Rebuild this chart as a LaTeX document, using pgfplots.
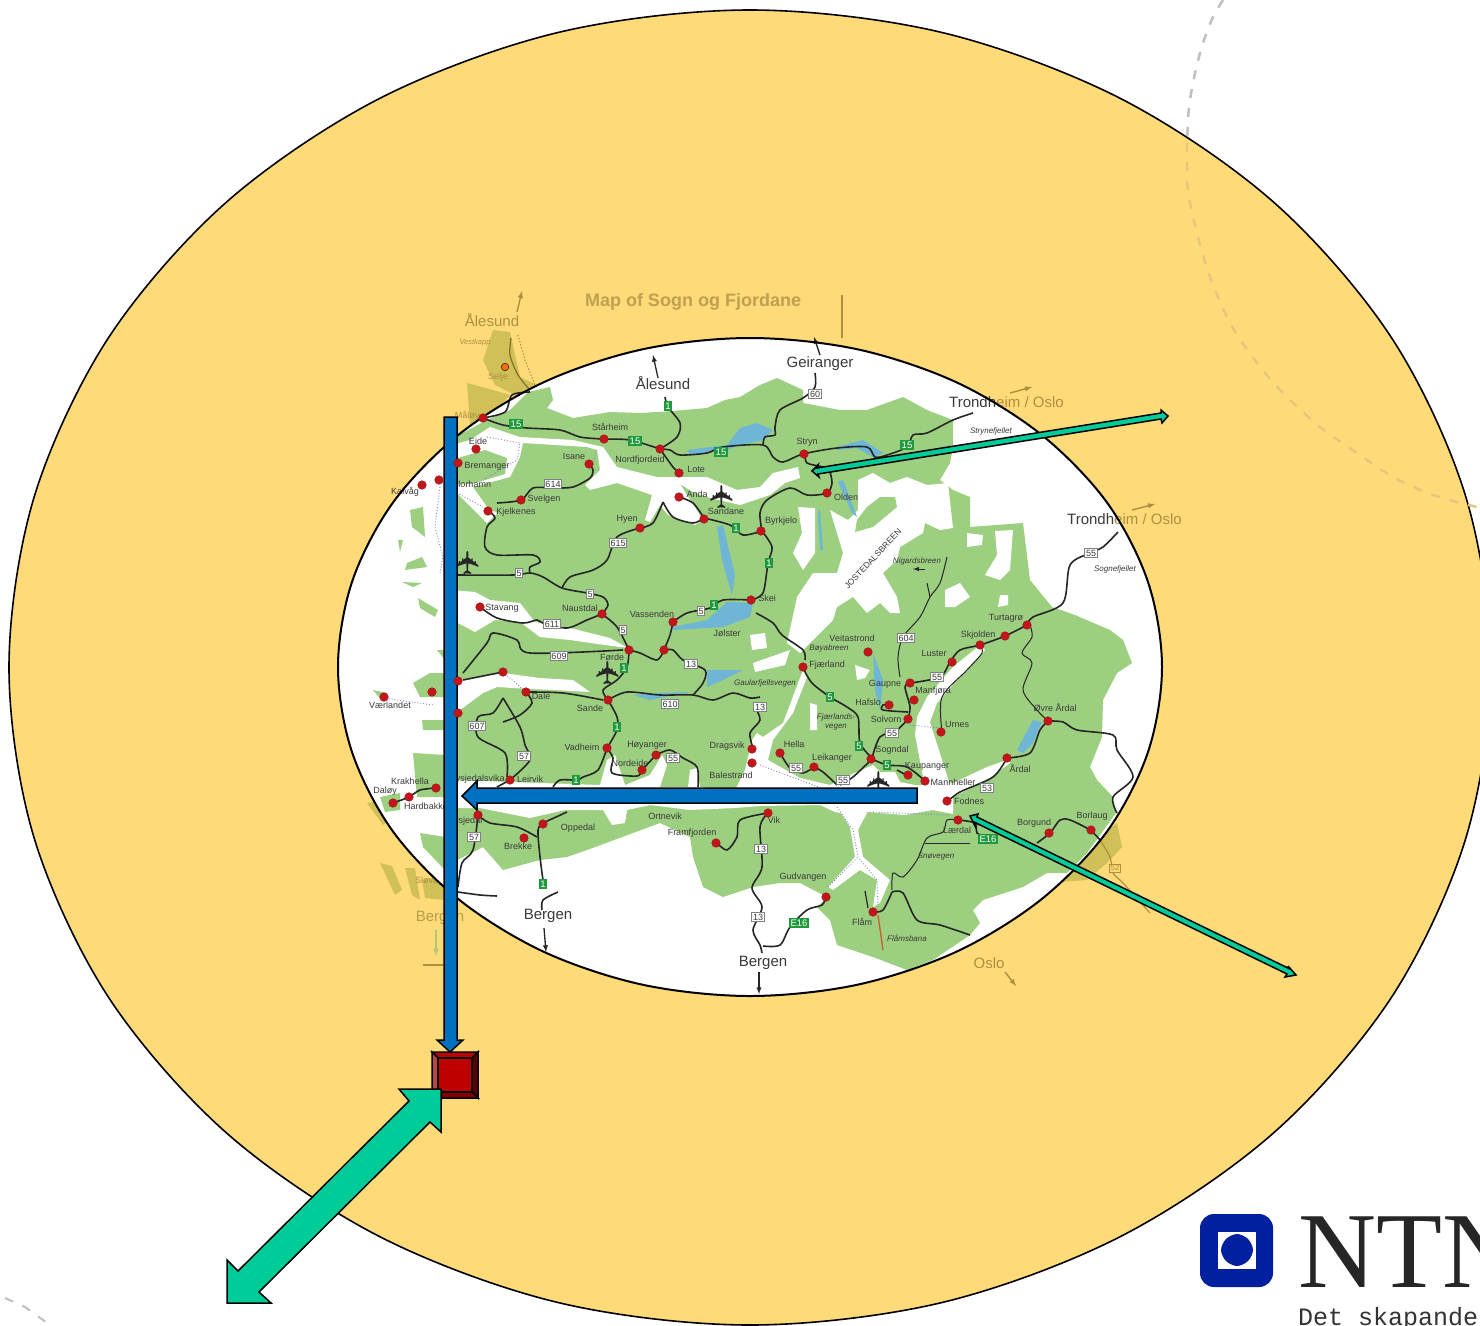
\documentclass[border=0pt]{standalone}
\usepackage{fontspec}
\usepackage{pgfplots}
\pgfplotsset{compat=1.18}
\setmainfont{Liberation Sans}
\newfontfamily\serifnt{Liberation Serif}
\newfontfamily\mononT{Liberation Mono}
\newfontfamily\dejavu{DejaVu Sans}
\definecolor{ringyellow}{HTML}{FFDA79}
\definecolor{arcfade}{HTML}{E6C67C}
\definecolor{land}{HTML}{9CCF7F}
\definecolor{lake}{HTML}{6FB6D6}
\definecolor{dotred}{HTML}{C2161C}
\definecolor{arrowblue}{HTML}{0070C0}
\definecolor{arrowteal}{HTML}{00CC99}
\definecolor{maptext}{HTML}{3A3A3A}
\definecolor{faded}{HTML}{AD8F3E}
\definecolor{fadedtitle}{HTML}{BFA04F}
\definecolor{olive}{HTML}{CFC157}
\definecolor{ntnu}{HTML}{00209F}
\definecolor{badgegreen}{HTML}{1E9A3C}
% labels are centred on the given pixel position
\newcommand{\lb}[3]{\node[font=\fontsize{9}{10}\selectfont,text=maptext,inner sep=0pt] at (axis cs:#1,#2) {#3};}
\newcommand{\lbi}[3]{\node[font=\fontsize{8}{9}\selectfont\itshape,text=maptext,inner sep=0pt,align=center] at (axis cs:#1,#2) {#3};}
\newcommand{\lbig}[3]{\node[font=\fontsize{15}{16}\selectfont,text=maptext,inner sep=0pt] at (axis cs:#1,#2) {#3};}
\newcommand{\wb}[3]{\node[font=\fontsize{9}{10}\selectfont,text=maptext,fill=white,draw=gray,line width=0.8pt,inner sep=1.2pt] at (axis cs:#1,#2) {#3};}
\newcommand{\gb}[3]{\node[font=\fontsize{9.5}{10}\selectfont,text=white,fill=badgegreen,inner sep=1.6pt] at (axis cs:#1,#2) {#3};}
\newcommand{\plane}[2]{\node[font=\dejavu\fontsize{32}{32}\selectfont,text=black!85,inner sep=0pt,rotate=90] at (axis cs:#1,#2) {✈};}
\pgfplotsset{
  road/.style={color=black!85,line width=1.6pt,smooth,tension=0.5},
  ferry/.style={color=gray!55!blue!70,line width=0.9pt,dotted},
  landf/.style={fill=land,draw=none},
  whitef/.style={fill=white,draw=none},
  lakef/.style={fill=lake,draw=none},
  olivef/.style={fill=olive,draw=none},
}
\begin{document}
\begin{tikzpicture}
\begin{axis}[
  scale only axis, width=1480pt, height=1325pt,
  xmin=0, xmax=1480, ymin=0, ymax=1325, y dir=reverse,
  axis lines=none, clip=true,
]
% page background, also keeps the picture at its full size
\addplot[fill=white,draw=none] coordinates {(0,0)(1480,0)(1480,1325)(0,1325)} -- cycle;
% dashed template arc, behind the ring
\addplot[color=gray!50,line width=2.5pt,dash pattern=on 9pt off 10pt,smooth] coordinates {(1223,0)(1213,17)(1203,43)(1195,73)(1189,107)(1187,143)};
\addplot[color=gray!50,line width=2pt,dash pattern=on 9pt off 10pt] coordinates {(5,1298)(25,1307)(50,1325)};
% outer ring
\addplot[fill=ringyellow,draw=black,line width=1.6pt,smooth cycle,tension=0.55] coordinates {
 (1491,667.5)(1466,497.5)(1392,338.5)(1274,202.5)(1120.5,98.5)(942,32.5)(750,10)(558,32.5)(379.5,98.5)(226,202.5)(108,338.5)(34,497.5)
 (9,667.5)(34,837.5)(108,996.5)(226,1132.5)(379.5,1236.5)(558,1302.5)(750,1325)(942,1302.5)(1120.5,1236.5)(1274,1132.5)(1392,996.5)(1466,837.5)};
\addplot[color=arcfade,line width=2.4pt,dash pattern=on 9pt off 10pt,smooth] coordinates {(1187,143)(1188,190)(1197,233)(1210,277)(1230,323)(1257,363)(1283,393)(1320,427)(1357,453)(1393,477)(1433,495)(1477,507)};
% faded part of the map outside the inner ellipse
\addplot[olivef] coordinates {(493,330)(510,332)(520,377)(537,385)(525,400)(495,385)(483,360)} -- cycle;
\addplot[olivef] coordinates {(467,383)(493,390)(510,395)(483,425)(470,425)} -- cycle;
\addplot[olivef] coordinates {(367,803)(383,800)(395,815)(383,825)} -- cycle;
\addplot[olivef] coordinates {(380,863)(392,866)(402,890)(395,895)} -- cycle;
\addplot[olivef] coordinates {(405,868)(415,868)(420,900)(412,895)} -- cycle;
\addplot[olivef] coordinates {(422,880)(445,875)(445,900)(425,898)} -- cycle;
\addplot[olivef] coordinates {(1117,823)(1122,847)(1107,863)(1087,880)(1060,882)(1067,870)(1100,835)} -- cycle;
\addplot[color=faded!80!black,line width=1.3pt,smooth] coordinates {(511,338)(510,355)(518,375)(530,390)};
\addplot[color=faded,line width=1.2pt,dotted] coordinates {(518,335)(525,360)(535,385)};
\addplot[color=faded,line width=1.2pt,smooth] coordinates {(1100,840)(1110,857)(1113,873)(1123,883)(1150,913)};
\addplot[color=faded,line width=1.2pt] coordinates {(842,295)(842,338)};
\addplot[only marks,mark=*,mark size=3.8pt,mark options={fill=orange!85!red,draw=none}] coordinates {(505,367)};
\addplot[color=faded,line width=1.4pt,-latex] coordinates {(517,312)(522,291)};
\addplot[color=faded,line width=1.4pt,-latex] coordinates {(1010,393)(1032,387)};
\addplot[color=faded,line width=1.4pt,-latex] coordinates {(1132,510)(1155,504)};
\addplot[color=faded,line width=1.4pt,-latex] coordinates {(1005,972)(1016,986)};
\addplot[color=land!60!olive,line width=1.5pt,-latex] coordinates {(436,930)(436,956)};
\addplot[color=faded,line width=1.2pt] coordinates {(423,965)(443,965)};
\node[font=\bfseries\fontsize{18}{20}\selectfont,text=fadedtitle,inner sep=0pt] at (axis cs:693,302) {Map of Sogn og Fjordane};
\node[font=\fontsize{15}{16}\selectfont,text=faded,inner sep=0pt] at (axis cs:492,320) {Ålesund};
\node[font=\fontsize{7.5}{8}\selectfont\itshape,text=faded,inner sep=0pt] at (axis cs:475,343) {Vestkapp};
\node[font=\fontsize{9}{10}\selectfont,text=faded,inner sep=0pt] at (axis cs:498,377) {Selje};
\node[font=\fontsize{9}{10}\selectfont,text=faded,inner sep=0pt] at (axis cs:467,416) {Måløy};
\node[font=\fontsize{9}{10}\selectfont,text=faded,inner sep=0pt] at (axis cs:429,881) {Sløvåg};
\node[font=\fontsize{15}{16}\selectfont,text=faded!70!olive,inner sep=0pt] at (axis cs:440,918) {Bergen};
\node[font=\fontsize{15}{16}\selectfont,text=faded,inner sep=0pt] at (axis cs:989,963) {Oslo};
\node[font=\fontsize{8}{9}\selectfont,text=faded,fill=ringyellow,draw=faded,inner sep=1pt] at (axis cs:1115,868) {52};
% inner ellipse
\addplot[fill=white,draw=none,smooth cycle,tension=0.55] coordinates {
 (1162,667)(1148,582)(1107,502.5)(1041,434.4)(956,382.1)(857,349.2)(750,338)(643,349.2)(544,382.1)(459,434.4)(393,502.5)(352,582)
 (338,667)(352,752)(393,831.5)(459,899.6)(544,951.9)(643,984.8)(750,996)(857,984.8)(956,951.9)(1041,899.6)(1107,831.5)(1148,752)};
% land
\addplot[landf] coordinates {(455,437)(487,420)(510,410)(528,392)(550,387)(553,400)(547,408)(573,418)(610,412)(640,413)(673,411)(707,408)(725,400)(740,397)(760,385)(777,378)(803,390)(803,403)(840,410)(867,410)(903,397)(927,410)(953,420)(953,447)(950,463)(940,480)(953,490)(970,497)(970,527)(1023,523)(1030,580)(1052,607)(1075,615)(1110,630)(1123,640)(1132,663)(1117,673)(1103,700)(1102,737)(1090,767)(1097,780)(1113,797)(1116,813)(1087,853)(1078,862)(1067,873)(1047,873)(1023,887)(983,900)(973,910)(980,923)(970,935)(933,960)(907,970)(873,957)(837,945)(830,920)(817,907)(827,897)(800,883)(780,883)(753,887)(723,897)(703,887)(693,857)(690,837)(660,823)(633,833)(587,850)(567,857)(540,860)(503,870)(483,847)(457,860)(452,880)(450,650)} -- cycle;
\addplot[landf] coordinates {(410,510)(423,507)(425,537)(412,527)} -- cycle;
\addplot[landf] coordinates {(398,540)(403,540)(400,552)} -- cycle;
\addplot[landf] coordinates {(407,563)(422,557)(427,567)(405,570)} -- cycle;
\addplot[landf] coordinates {(402,582)(422,583)(413,587)} -- cycle;
\addplot[landf] coordinates {(418,598)(438,610)(435,617)(420,608)} -- cycle;
\addplot[landf] coordinates {(413,683)(430,673)(445,673)(445,697)(420,697)} -- cycle;
\addplot[landf] coordinates {(373,690)(387,693)(383,702)} -- cycle;
\addplot[landf] coordinates {(437,650)(445,650)(445,660)} -- cycle;
\addplot[landf] coordinates {(422,720)(445,720)(445,730)(423,730)} -- cycle;
\addplot[landf] coordinates {(413,753)(445,755)(445,797)(417,797)} -- cycle;
\addplot[landf] coordinates {(380,797)(400,793)(400,810)(385,812)} -- cycle;
\addplot[landf] coordinates {(420,833)(445,837)(445,870)(423,847)} -- cycle;
% fjords and glaciers
\addplot[whitef] coordinates {(490,427)(520,437)(573,440)(603,447)(617,467)(657,477)(680,477)(707,477)(737,490)(760,487)(773,473)(798,467)(800,478)(785,483)(770,495)(740,505)(710,498)(693,492)(680,484)(703,520)(695,525)(668,515)(660,505)(650,522)(645,520)(652,495)(617,483)(590,490)(585,485)(600,470)(597,450)(587,447)(523,443)(520,457)(510,477)(473,487)(487,507)(497,513)(487,523)(477,513)(457,493)(452,495)(452,445)(470,440)} -- cycle;
\addplot[landf] coordinates {(458,458)(485,450)(507,458)(505,474)(472,484)(458,484)} -- cycle;
\addplot[whitef] coordinates {(452,590)(475,592)(490,600)(520,603)(535,622)(570,628)(610,638)(628,648)(605,645)(570,640)(540,637)(520,622)(495,620)(475,632)(452,620)} -- cycle;
\addplot[whitef] coordinates {(452,685)(460,680)(503,673)(540,678)(573,680)(590,692)(553,690)(513,688)(497,687)(483,693)(460,710)(452,712)} -- cycle;
\addplot[whitef] coordinates {(452,780)(600,785)(607,760)(615,755)(625,785)(650,775)(662,755)(667,765)(660,787)(688,787)(690,770)(697,768)(700,787)(735,790)(745,770)(752,740)(757,733)(763,737)(783,723)(803,670)(807,677)(793,713)(773,740)(768,760)(800,778)(830,785)(850,775)(873,765)(880,772)(895,772)(900,782)(915,785)(945,785)(953,797)(953,814)(933,810)(905,815)(867,812)(860,817)(835,812)(820,805)(760,806)(735,808)(690,810)(650,805)(627,810)(625,823)(612,825)(603,810)(565,810)(530,818)(500,812)(480,808)(452,808)} -- cycle;
\addplot[whitef] coordinates {(980,645)(985,650)(957,680)(937,703)(930,722)(950,785)(925,787)(915,735)(917,717)(927,697)(953,667)} -- cycle;
\addplot[whitef] coordinates {(943,783)(953,783)(987,767)(1007,760)(1010,763)(987,780)(953,797)(945,795)} -- cycle;
\addplot[whitef] coordinates {(837,807)(850,827)(855,857)(828,887)(833,890)(860,870)(877,880)(873,907)(880,903)(890,880)(863,857)(858,830)(867,813)} -- cycle;
\addplot[whitef] coordinates {(858,480)(873,473)(890,483)(907,477)(927,485)(948,483)(953,528)(940,530)(925,523)(923,533)(900,547)(897,560)(883,573)(897,597)(900,613)(890,613)(880,603)(867,613)(853,597)(837,607)(833,620)(813,640)(800,653)(787,643)(797,597)(813,573)(837,573)(843,553)(830,510)(848,520)(858,510)} -- cycle;
\addplot[landf] coordinates {(857,520)(855,532)(873,527)(897,507)(895,497)(880,497)(867,507)} -- cycle;
\addplot[whitef] coordinates {(798,507)(815,508)(815,553)(803,570)(793,553)(802,533)} -- cycle;
\addplot[whitef] coordinates {(995,531)(1013,530)(1010,570)(1000,580)(985,575)(997,555)} -- cycle;
\addplot[whitef] coordinates {(967,533)(983,535)(982,545)(967,547)} -- cycle;
\addplot[whitef] coordinates {(945,590)(960,583)(970,597)(955,607)(945,607)} -- cycle;
\addplot[whitef] coordinates {(1000,595)(1008,595)(1008,605)(998,607)} -- cycle;
\addplot[whitef] coordinates {(753,663)(790,650)(785,665)(755,672)} -- cycle;
\addplot[whitef] coordinates {(750,635)(765,633)(767,648)(752,650)} -- cycle;
\addplot[whitef] coordinates {(855,665)(870,670)(865,678)(857,680)} -- cycle;
\addplot[whitef] coordinates {(810,703)(817,705)(817,730)(810,730)} -- cycle;
% lakes
\addplot[lakef] coordinates {(673,627)(707,620)(727,602)(753,603)(750,617)(723,627)(673,630)} -- cycle;
\addplot[lakef] coordinates {(717,527)(723,525)(735,575)(732,595)(722,560)} -- cycle;
\addplot[lakef] coordinates {(837,447)(863,440)(883,453)(873,457)(857,448)(837,450)} -- cycle;
\addplot[lakef] coordinates {(687,450)(727,445)(740,428)(757,423)(773,430)(763,440)(740,445)(727,450)(690,455)} -- cycle;
\addplot[lakef] coordinates {(843,480)(857,517)(852,513)(838,482)} -- cycle;
\addplot[lakef] coordinates {(820,508)(823,550)(820,550)(818,513)} -- cycle;
\addplot[lakef] coordinates {(707,670)(743,670)(723,680)(707,687)} -- cycle;
\addplot[lakef] coordinates {(633,695)(650,700)(690,692)(660,693)} -- cycle;
\addplot[lakef] coordinates {(873,653)(883,680)(880,710)(875,690)} -- cycle;
\addplot[lakef] coordinates {(1017,750)(1033,720)(1042,722)(1033,743)(1023,753)} -- cycle;
% ferries
\addplot[ferry] coordinates {(440,487)(435,527)(443,557)(440,573)};
\addplot[ferry] coordinates {(457,493)(483,507)};
\addplot[ferry] coordinates {(487,437)(520,443)(517,460)(483,480)};
\addplot[ferry] coordinates {(910,725)(940,728)};
\addplot[ferry] coordinates {(383,698)(433,705)};
\addplot[ferry] coordinates {(760,765)(840,795)};
\addplot[ferry] coordinates {(837,807)(853,830)(858,857)(877,880)(878,905)};
\addplot[ferry] coordinates {(828,887)(858,857)};
\addplot[ferry] coordinates {(870,812)(950,815)};
\addplot[ferry] coordinates {(503,672)(526,692)};
\addplot[ferry] coordinates {(597,450)(590,470)};
% roads
\addplot[road] coordinates {(483,418)(503,425)(527,428)(560,430)(580,437)(603,439)(630,440)(660,449)};
\addplot[road] coordinates {(660,449)(670,450)(680,455)(707,453)(723,447)(763,445)(773,457)(783,462)(803,454)(837,448)(867,447)(875,457)(887,455)(907,447)(913,435)(927,433)(953,420)(973,413)};
\addplot[road] coordinates {(483,418)(505,412)(512,395)(530,392)};
\addplot[road] coordinates {(665,397)(668,407)(680,423)(677,437)(660,449)};
\addplot[road] coordinates {(660,449)(673,467)(679,473)};
\addplot[road] coordinates {(679,497)(693,503)(704,518)};
\addplot[road] coordinates {(704,518)(730,525)(743,535)(762,531)};
\addplot[road] coordinates {(663,502)(673,517)(693,523)(704,518)};
\addplot[road] coordinates {(640,528)(653,523)(663,502)};
\addplot[road] coordinates {(640,528)(617,537)(607,560)(593,570)(570,577)(562,588)};
\addplot[road] coordinates {(457,575)(513,575)(530,573)(543,577)(562,588)(587,593)(603,597)(608,605)(602,614)};
\addplot[road] coordinates {(488,510)(495,518)(487,527)(485,547)(497,555)(533,555)(540,562)(530,567)(530,573)};
\addplot[road] coordinates {(497,503)(521,500)(533,488)(553,488)(573,487)(590,478)(593,470)(589,464)};
\addplot[road] coordinates {(480,607)(497,618)(523,623)(537,620)(543,623)(567,628)(587,620)(602,614)};
\addplot[road] coordinates {(602,614)(617,627)(629,650)};
\addplot[road] coordinates {(673,622)(687,613)(710,608)(723,600)(751,600)};
\addplot[road] coordinates {(751,600)(763,593)(768,563)(772,547)(762,531)};
\addplot[road] coordinates {(762,531)(760,513)(767,500)(790,488)(807,495)(827,493)(832,483)(830,472)};
\addplot[road] coordinates {(805,454)(807,463)(823,467)(832,472)};
\addplot[road] coordinates {(815,373)(815,387)(803,398)(780,410)(775,427)(775,435)(765,437)(763,445)};
\addplot[road] coordinates {(1118,532)(1103,547)(1090,553)(1070,565)(1063,603)(1033,617)(1027,625)};
\addplot[road] coordinates {(1027,625)(1005,636)(980,645)(960,650)(950,662)(940,677)(910,683)};
\addplot[road] coordinates {(910,683)(905,687)(910,707)(908,719)};
\addplot[road] coordinates {(908,719)(897,730)(880,737)(872,758)};
\addplot[road,line width=1pt] coordinates {(900,677)(898,657)(903,637)(920,617)(930,597)(940,583)(947,557)};
\addplot[road,line width=1pt] coordinates {(930,597)(927,583)};
\addplot[road] coordinates {(889,705)(883,705)(883,710)(908,712)};
\addplot[road,line width=1pt] coordinates {(942,732)(942,697)(967,670)(982,653)(980,645)};
\addplot[road,line width=1pt] coordinates {(1030,625)(1032,637)(1022,653)(1032,663)(1023,690)(1037,710)(1048,721)};
\addplot[road] coordinates {(1048,721)(1063,722)(1077,730)(1113,735)(1117,750)(1133,777)(1113,797)(1117,813)};
\addplot[road] coordinates {(1048,721)(1040,730)(1030,753)(1007,758)};
\addplot[road] coordinates {(1007,758)(993,777)(960,792)(947,802)};
\addplot[road,line width=1pt] coordinates {(958,820)(947,820)(943,832)(927,838)(917,860)(903,877)(893,873)(892,890)};
\addplot[road] coordinates {(958,820)(975,823)(977,833)(987,837)};
\addplot[road] coordinates {(1037,843)(1050,833)(1060,820)(1070,820)(1090,830)(1100,840)};
\addplot[road] coordinates {(892,892)(903,893)(917,920)(940,925)(970,935)};
\addplot[road] coordinates {(892,892)(883,910)(873,912)};
\addplot[color=brown!70!red,line width=1.3pt] coordinates {(878,915)(883,950)};
\addplot[road] coordinates {(762,953)(760,945)(753,930)(762,907)(752,888)(762,867)(760,827)(768,813)};
\addplot[road] coordinates {(826,897)(822,905)(807,910)(790,927)(780,945)(763,946)};
\addplot[road] coordinates {(717,843)(727,850)(737,837)(740,820)(768,813)};
\addplot[road] coordinates {(872,759)(853,777)(840,785)};
\addplot[road] coordinates {(872,759)(887,765)(907,767)(925,781)};
\addplot[road] coordinates {(897,770)(908,776)};
\addplot[road] coordinates {(814,767)(803,773)(790,768)(780,753)};
\addplot[road] coordinates {(814,767)(823,772)(837,785)};
\addplot[road] coordinates {(756,613)(773,623)(782,635)(803,650)(805,660)};
\addplot[road] coordinates {(803,668)(812,683)(830,697)(847,707)(858,717)(860,743)(872,758)};
\addplot[road] coordinates {(755,707)(760,720)(750,733)(753,748)};
\addplot[road] coordinates {(673,622)(670,635)(664,650)};
\addplot[road] coordinates {(693,695)(703,683)(705,670)(683,660)(673,650)(664,650)};
\addplot[road] coordinates {(664,650)(657,660)(640,653)(629,650)};
\addplot[road] coordinates {(608,700)(627,692)(660,695)(693,695)(713,700)(733,693)(750,698)(760,697)};
\addplot[road] coordinates {(629,650)(627,667)(617,680)(603,690)(608,700)};
\addplot[road] coordinates {(608,700)(617,717)(617,730)(607,748)};
\addplot[road] coordinates {(607,748)(598,770)(583,777)(577,780)(560,780)(553,787)};
\addplot[road] coordinates {(607,748)(613,758)(612,773)(637,776)(642,770)(656,755)};
\addplot[road] coordinates {(656,755)(670,750)(683,758)(697,767)(698,787)};
\addplot[road] coordinates {(463,673)(487,643)(493,633)(517,640)(530,653)(623,650)};
\addplot[road] coordinates {(463,680)(503,672)};
\addplot[road] coordinates {(526,692)(563,693)(603,700)};
\addplot[road] coordinates {(526,692)(532,703)(520,715)(503,722)};
\addplot[road] coordinates {(503,698)(520,727)(525,745)(530,760)(510,780)};
\addplot[road] coordinates {(503,698)(493,713)(478,717)(478,737)(505,753)(507,777)};
\addplot[road] coordinates {(510,780)(497,787)};
\addplot[road] coordinates {(393,803)(409,797)(420,790)(436,788)};
\addplot[road] coordinates {(478,815)(490,823)(517,827)(537,837)};
\addplot[road] coordinates {(543,823)(538,830)(540,857)(543,880)};
\addplot[road] coordinates {(558,892)(543,900)(542,910)};
\addplot[road] coordinates {(543,823)(567,812)};
\addplot[road] coordinates {(478,815)(473,850)(462,863)(458,887)};
\addplot[road] coordinates {(458,892)(480,895)(497,896)};
\addplot[road,line width=1pt] coordinates {(925,843)(970,843)};
% little arrows on the map
\addplot[color=black!85,line width=1.3pt,-latex] coordinates {(658,378)(653,355)};
\addplot[color=black!85,line width=1.3pt,-latex] coordinates {(820,355)(814,337)};
\addplot[color=black!85,line width=1.3pt,-latex] coordinates {(544,928)(546,952)};
\addplot[color=black!85,line width=1.3pt,-latex] coordinates {(759,972)(759,994)};
\addplot[color=black!85,line width=1pt,-latex] coordinates {(925,569)(913,569)};
\addplot[color=black!85,line width=1.2pt] coordinates {(865,891)(868,908)};
% towns
\addplot[only marks,mark=*,mark size=4.3pt,mark options={fill=dotred,draw=dotred!80!black,line width=0.4pt}] coordinates {
 (483,418)(476,449)(458,463)(439,480)(422,485)(488,511)(521,500)(589,464)(604,439)(660,449)(679,473)(679,497)(704,519)(640,528)
 (761,531)(827,493)(804,454)(751,600)(673,622)(602,614)(480,607)(629,650)(664,650)(503,672)(526,692)(608,700)(458,681)(432,692)
 (458,713)(384,697)(607,748)(656,755)(642,770)(510,780)(436,788)(409,797)(393,803)(478,815)(543,824)(524,838)(716,843)(768,813)
 (752,749)(752,763)(780,753)(814,767)(871,759)(908,775)(925,781)(947,801)(958,820)(889,705)(868,652)(803,667)(910,683)(914,700)
 (908,719)(941,732)(952,662)(980,645)(1005,636)(1027,625)(1048,721)(1007,758)(1049,833)(1091,830)(826,897)(873,912)};
% planes
\plane{722}{497}\plane{468}{563}\plane{608}{673}\plane{879}{783}
% road numbers
\gb{516}{424}{15}\gb{635}{441}{15}\gb{721}{452}{15}\gb{907}{445}{15}
\gb{668}{406}{1}\gb{736}{528}{1}\gb{769}{563}{1}\gb{714}{605}{1}\gb{624}{668}{1}\gb{617}{727}{1}\gb{576}{780}{1}\gb{543}{884}{1}
\gb{830}{697}{5}\gb{859}{746}{5}\gb{887}{765}{5}\gb{988}{839}{E16}\gb{799}{923}{E16}
\wb{553}{484}{614}\wb{618}{543}{615}\wb{519}{573}{5}\wb{590}{594}{5}\wb{552}{624}{611}\wb{559}{656}{609}\wb{623}{630}{5}\wb{701}{611}{5}
\wb{691}{664}{13}\wb{670}{704}{610}\wb{477}{726}{607}\wb{524}{756}{57}\wb{474}{837}{57}\wb{673}{758}{55}\wb{760}{707}{13}\wb{796}{768}{55}
\wb{843}{780}{55}\wb{892}{733}{55}\wb{937}{677}{55}\wb{906}{638}{604}\wb{987}{788}{53}\wb{761}{849}{13}\wb{758}{917}{13}\wb{1091}{553}{55}\wb{815}{394}{60}
% place names
\lb{610}{427}{Stårheim}\lb{574}{456}{Isane}\lb{640}{460}{Nordfjordeid}\lb{696}{469}{Lote}\lb{697}{494}{Anda}\lb{726}{511}{Sandane}
\lb{627}{519}{Hyen}\lb{544}{499}{Svelgen}\lb{516}{512}{Kjelkenes}\lb{487}{466}{Bremanger}\lb{502}{608}{Stavang}\lb{580}{608}{Naustdal}
\lb{652}{614}{Vassenden}\lb{727}{633}{Jølster}\lb{767}{598}{Skei}\lb{781}{521}{Byrkjelo}\lb{846}{497}{Olden}\lb{807}{442}{Stryn}
\lb{612}{657}{Førde}\lb{541}{696}{Dale}\lb{590}{708}{Sande}\lb{582}{747}{Vadheim}\lb{647}{745}{Høyanger}\lb{630}{763}{Nordeide}
\lb{530}{779}{Leirvik}\lb{731}{775}{Balestrand}\lb{727}{746}{Dragsvik}\lb{794}{744}{Hella}\lb{832}{758}{Leikanger}\lb{892}{750}{Sogndal}
\lb{927}{766}{Kaupanger}\lb{953}{782}{Mannheller}\lb{969}{801}{Fodnes}\lb{957}{830}{Lærdal}\lb{1034}{823}{Borgund}\lb{1092}{816}{Borlaug}
\lb{1020}{769}{Årdal}\lb{1055}{708}{Øvre Årdal}\lb{957}{724}{Urnes}\lb{886}{719}{Solvorn}\lb{868}{702}{Hafslo}\lb{885}{684}{Gaupne}
\lb{933}{691}{Manfjøra}\lb{934}{653}{Luster}\lb{978}{635}{Skjolden}\lb{1006}{618}{Turtagrø}\lb{852}{638}{Veitastrond}\lb{827}{665}{Fjærland}
\lb{774}{820}{Vik}\lb{665}{816}{Ortnevik}\lb{692}{833}{Framfjorden}\lb{578}{828}{Oppedal}\lb{518}{846}{Brekke}\lb{803}{877}{Gudvangen}
\lb{862}{922}{Flåm}\lb{390}{705}{Værlandet}\lb{410}{781}{Krakhella}\lb{385}{791}{Daløy}\lb{426}{806}{Hardbakke}\lb{405}{492}{Kalvåg}
\lb{478}{441}{Eide}\lb{472}{484}{Florhamn}\lb{477}{779}{Rysjedalsvika}\lb{465}{821}{Rysjedal}
\lbi{829}{648}{Bøyabreen}\lbi{917}{561}{Nigardsbreen}\lbi{1115}{569}{Sognefjellet}\lbi{991}{431}{Strynefjellet}
\lbi{907}{938}{Flåmsbana}\lbi{936}{857}{Snøvegen}\lbi{765}{683}{Gaularfjellsvegen}\lbi{836}{722}{Fjærlands-\\vegen}
\node[font=\fontsize{8.5}{9}\selectfont,text=maptext,inner sep=0pt,rotate=47] at (axis cs:873,559) {JOSTEDALSBREEN};
\lbig{663}{383}{Ålesund}\lbig{820}{364}{Geiranger}\lbig{548}{916}{Bergen}\lbig{763}{963}{Bergen}
\node[font=\fontsize{15}{16}\selectfont,inner sep=0pt,anchor=west] at (axis cs:949,402) {\textcolor{maptext}{Trondh}\textcolor{faded}{eim / Oslo}};
\node[font=\fontsize{15}{16}\selectfont,inner sep=0pt,anchor=west] at (axis cs:1067,519) {\textcolor{maptext}{Trondh}\textcolor{faded}{eim / Oslo}};
% inner ellipse outline
\addplot[draw=black,line width=2pt,smooth cycle,tension=0.55] coordinates {
 (1162,667)(1148,582)(1107,502.5)(1041,434.4)(956,382.1)(857,349.2)(750,338)(643,349.2)(544,382.1)(459,434.4)(393,502.5)(352,582)
 (338,667)(352,752)(393,831.5)(459,899.6)(544,951.9)(643,984.8)(750,996)(857,984.8)(956,951.9)(1041,899.6)(1107,831.5)(1148,752)};
% red square with bevel
\addplot[fill=red!75!black,draw=black,line width=1.5pt] coordinates {(432,1052)(478,1052)(472,1058)(438,1058)} -- cycle;
\addplot[fill=red!45!gray,draw=black,line width=1.5pt] coordinates {(432,1052)(438,1058)(438,1092)(432,1098)} -- cycle;
\addplot[fill=black!65!red,draw=black,line width=1.5pt] coordinates {(478,1052)(478,1098)(472,1092)(472,1058)} -- cycle;
\addplot[fill=black!50!red,draw=black,line width=1.5pt] coordinates {(432,1098)(478,1098)(472,1092)(438,1092)} -- cycle;
\addplot[fill=red!75!black,draw=black,line width=1.5pt] coordinates {(438,1058)(472,1058)(472,1092)(438,1092)} -- cycle;
% blue arrows
\addplot[fill=arrowblue,draw=black,line width=1.5pt] coordinates {(444,417)(457,417)(457,1040)(463,1040)(450,1052)(437,1040)(444,1040)} -- cycle;
\addplot[fill=arrowblue,draw=black,line width=1.5pt] coordinates {(917,788)(477,788)(477,781)(462,796)(477,810)(477,803)(917,803)} -- cycle;
% teal arrows
\addplot[fill=arrowteal,draw=black,line width=1.5pt] coordinates {(441,1089)(399,1089)(409,1101)(238,1271)(227,1260)(227,1303)(271,1303)(259,1292)(430,1122)(441,1132)} -- cycle;
\addplot[fill=arrowteal,draw=black,line width=1.5pt] coordinates {(812,471)(818,465)(817,468)(1161,413)(1161,410)(1168,416)(1162,423)(1161,419)(818,474)(819,477)} -- cycle;
\addplot[fill=arrowteal,draw=black,line width=1.5pt] coordinates {(970,816)(978,814)(977,817)(1290,969)(1288,966)(1296,975)(1285,977)(1287,974)(974,822)(975,826)} -- cycle;
% logo
\addplot[fill=ntnu,draw=none,rounded corners=14pt] coordinates {(1200,1214)(1273,1214)(1273,1287)(1200,1287)} -- cycle;
\addplot[fill=white,draw=none] coordinates {(1218,1232)(1256,1232)(1256,1269)(1218,1269)} -- cycle;
\addplot[fill=ntnu,draw=none,smooth cycle,tension=0.55] coordinates {(1253,1250)(1248,1261)(1237,1266)(1226,1261)(1221,1250)(1226,1239)(1237,1234)(1248,1239)};
\node[font=\serifnt\fontsize{108}{110}\selectfont,text=black!85,inner sep=0pt,anchor=base west] at (axis cs:1298,1287) {NTNU};
\node[font=\mononT\fontsize{25}{26}\selectfont,text=black!80,inner sep=0pt,anchor=base west] at (axis cs:1298,1325) {Det skapande};
\end{axis}
\end{tikzpicture}
\end{document}
